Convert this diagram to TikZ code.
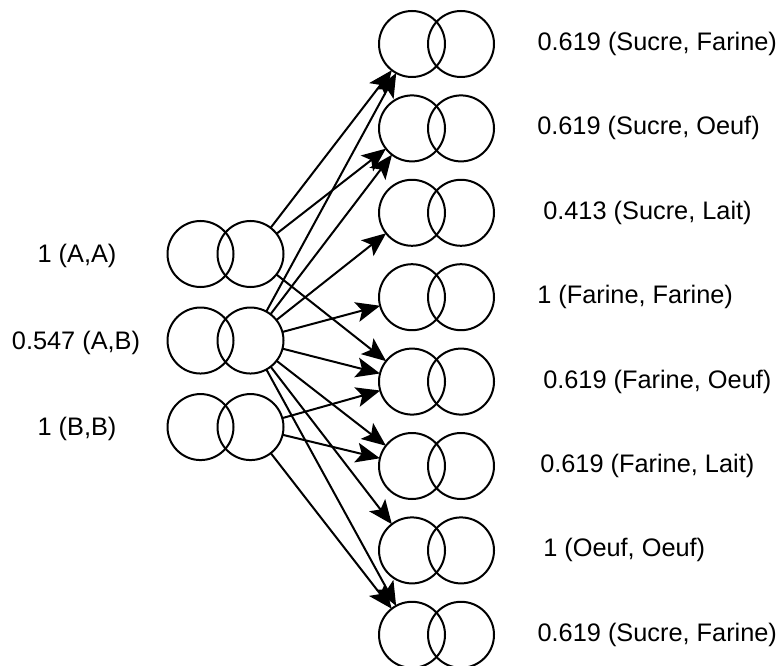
\documentclass[tikz,border=0pt]{standalone}
\usepackage{fontspec}
\setmainfont{Liberation Sans}
\usetikzlibrary{arrows.meta, positioning}

\begin{document}
\begin{tikzpicture}[
    x=0.75pt, y=-0.75pt,
    venn/.style={circle, draw, line width=1.5pt, minimum size=49.5pt, inner sep=0pt, outer sep=0pt},
    score/.style={inner sep=0pt, font=\fontsize{19pt}{22pt}\selectfont},
    arrow/.style={-{Stealth[length=18pt, width=15pt, inset=4pt]}, line width=1.5pt}
]
    \useasboundingbox (0,0) rectangle (781,666);

    % paires de gauche
    \node[venn] (aaL) at (200.5,254) {};
    \node[venn, right=-12pt of aaL] (aaR) {};
    \node[venn, below=15.4pt of aaL] (abL) {};
    \node[venn, right=-12pt of abL] (abR) {};
    \node[venn, below=15.4pt of abL] (bbL) {};
    \node[venn, right=-12pt of bbL] (bbR) {};

    \node[score] (aaT) at (77,256) {1 (A,A)};
    \node[score] (abT) at (76,342.5) {0.547 (A,B)};
    \node[score] (bbT) at (77,429) {1 (B,B)};

    % paires de droite
    \node[venn] (sfL) at (412,44) {};
    \node[venn, right=-12.75pt of sfL] (sfR) {};
    \node[venn, below=13.8pt of sfL] (soL) {};
    \node[venn, right=-12.75pt of soL] (soR) {};
    \node[venn, below=13.8pt of soL] (slL) {};
    \node[venn, right=-12.75pt of slL] (slR) {};
    \node[venn, below=13.8pt of slL] (ffL) {};
    \node[venn, right=-12.75pt of ffL] (ffR) {};
    \node[venn, below=13.8pt of ffL] (foL) {};
    \node[venn, right=-12.75pt of foL] (foR) {};
    \node[venn, below=13.8pt of foL] (flL) {};
    \node[venn, right=-12.75pt of flL] (flR) {};
    \node[venn, below=13.8pt of flL] (ooL) {};
    \node[venn, right=-12.75pt of ooL] (ooR) {};
    \node[venn, below=13.8pt of ooL] (sf2L) {};
    \node[venn, right=-12.75pt of sf2L] (sf2R) {};

    % scores
    \node[score, right=32.5pt of sfR] (sfT) {0.619 (Sucre, Farine)};
    \node[score, right=32.25pt of soR] (soT) {0.619 (Sucre, Oeuf)};
    \node[score, right=36.75pt of slR] (slT) {0.413 (Sucre, Lait)};
    \node[score, right=32.25pt of ffR] (ffT) {1 (Farine, Farine)};
    \node[score, right=36.75pt of foR] (foT) {0.619 (Farine, Oeuf)};
    \node[score, right=34.5pt of flR] (flT) {0.619 (Farine, Lait)};
    \node[score, right=36.75pt of ooR] (ooT) {1 (Oeuf, Oeuf)};
    \node[score, right=32.5pt of sf2R] (sf2T) {0.619 (Sucre, Farine)};

    % fleches
    \draw[arrow] (aaR) -- (sfL);
    \draw[arrow] (aaR) -- (soL);
    \draw[arrow] (aaR) -- (foL);
    \draw[arrow] (abR) -- (sfL);
    \draw[arrow] (abR) -- (soL);
    \draw[arrow] (abR) -- (slL);
    \draw[arrow] (abR) -- (ffL);
    \draw[arrow] (abR) -- (foL);
    \draw[arrow] (abR) -- (flL);
    \draw[arrow] (abR) -- (ooL);
    \draw[arrow] (abR) -- (sf2L);
    \draw[arrow] (bbR) -- (foL);
    \draw[arrow] (bbR) -- (flL);
    \draw[arrow] (bbR) -- (sf2L);
\end{tikzpicture}
\end{document}
